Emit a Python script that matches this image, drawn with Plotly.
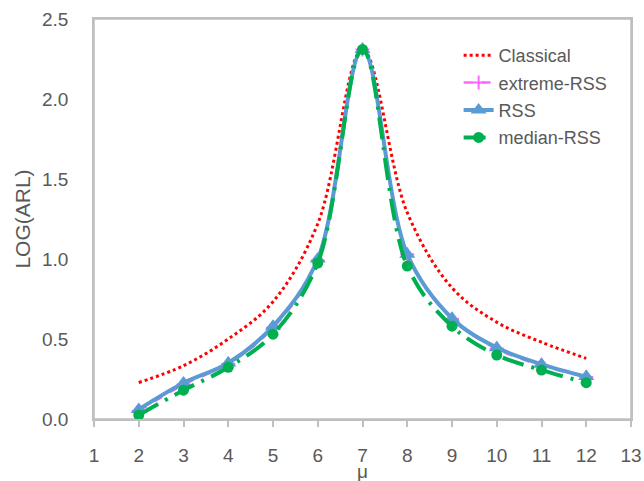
import plotly.graph_objects as go

mu = [2, 3, 4, 5, 6, 7, 8, 9, 10, 11, 12]
classical = [0.228, 0.333, 0.50, 0.733, 1.22, 2.31, 1.29, 0.82, 0.605, 0.48, 0.379]
extreme_rss = [0.05, 0.215, 0.345, 0.57, 0.99, 2.31, 1.03, 0.625, 0.44, 0.335, 0.262]
rss = [0.06, 0.225, 0.35, 0.58, 1.0, 2.31, 1.03, 0.63, 0.446, 0.342, 0.265]
median_rss = [0.025, 0.18, 0.323, 0.53, 0.975, 2.31, 0.956, 0.58, 0.40, 0.306, 0.227]

x_ticks = list(range(1, 14))
y_ticks = [0.0, 0.5, 1.0, 1.5, 2.0, 2.5]

FONT = "Liberation Sans"
GREY_TXT = "#595959"
GREY_LINE = "#BFBFBF"

fig = go.Figure()
fig.add_trace(go.Scatter(
    x=mu, y=classical, name="Classical", mode="lines",
    line=dict(color="#FF0000", width=3, dash="dot", shape="spline", smoothing=1.0),
    legendgroup="a"))
fig.add_trace(go.Scatter(
    x=mu, y=extreme_rss, name="extreme-RSS", mode="lines+markers",
    line=dict(color="#FF66FF", width=2.5, dash="dash", shape="spline", smoothing=1.0),
    marker=dict(symbol="cross-thin", size=10, line=dict(color="#FF66FF", width=2)),
    legendgroup="b"))
fig.add_trace(go.Scatter(
    x=mu, y=rss, name="RSS", mode="lines+markers",
    line=dict(color="#5B9BD5", width=4, shape="spline", smoothing=1.0),
    marker=dict(symbol="triangle-up", size=14, color="#5B9BD5"),
    legendgroup="c"))
fig.add_trace(go.Scatter(
    x=mu, y=median_rss, name="median-RSS", mode="lines+markers",
    line=dict(color="#00B050", width=4, dash="22px,8px,3px,8px", shape="spline", smoothing=1.0),
    marker=dict(symbol="circle", size=11, color="#00B050"),
    legendgroup="d"))

fig.update_layout(
    width=644, height=481,
    margin=dict(l=94, r=13, t=19, b=62),
    paper_bgcolor="white", plot_bgcolor="white",
    font=dict(family=FONT, size=19, color=GREY_TXT),
    showlegend=True,
    legend=dict(x=0.679, y=0.955, xanchor="left", yanchor="top",
                bgcolor="rgba(0,0,0,0)", tracegroupgap=1,
                font=dict(family=FONT, size=18, color=GREY_TXT)),
    xaxis=dict(range=[1, 13], tickvals=x_ticks, ticktext=[str(v) for v in x_ticks],
               showgrid=False, zeroline=False, automargin=False,
               showline=True, mirror=True, linecolor=GREY_LINE, linewidth=1.5,
               ticks="outside", ticklen=6, tickcolor=GREY_LINE, tickwidth=1.5,
               ticklabelstandoff=12,
               tickfont=dict(family=FONT, size=19, color=GREY_TXT)),
    yaxis=dict(range=[0, 2.5], tickvals=y_ticks, ticktext=[f"{v:.1f}" for v in y_ticks],
               showgrid=False, zeroline=False, automargin=False,
               showline=True, mirror=True, linecolor=GREY_LINE, linewidth=1.5,
               ticks="", ticklabelstandoff=20,
               tickfont=dict(family=FONT, size=19, color=GREY_TXT),
               title=dict(text="LOG(ARL)", standoff=6, font=dict(family=FONT, size=21, color=GREY_TXT))),
    shapes=[dict(type="rect", xref="paper", yref="paper", x0=0, y0=0, x1=1, y1=1,
                 line=dict(color=GREY_LINE, width=1.5), fillcolor="rgba(0,0,0,0)", layer="below")],
    annotations=[dict(text="μ", xref="paper", yref="paper", x=0.5, y=-0.131,
                      xanchor="center", yanchor="middle", showarrow=False,
                      font=dict(family=FONT, size=19, color=GREY_TXT))],
)

fig.write_html("out.html")
